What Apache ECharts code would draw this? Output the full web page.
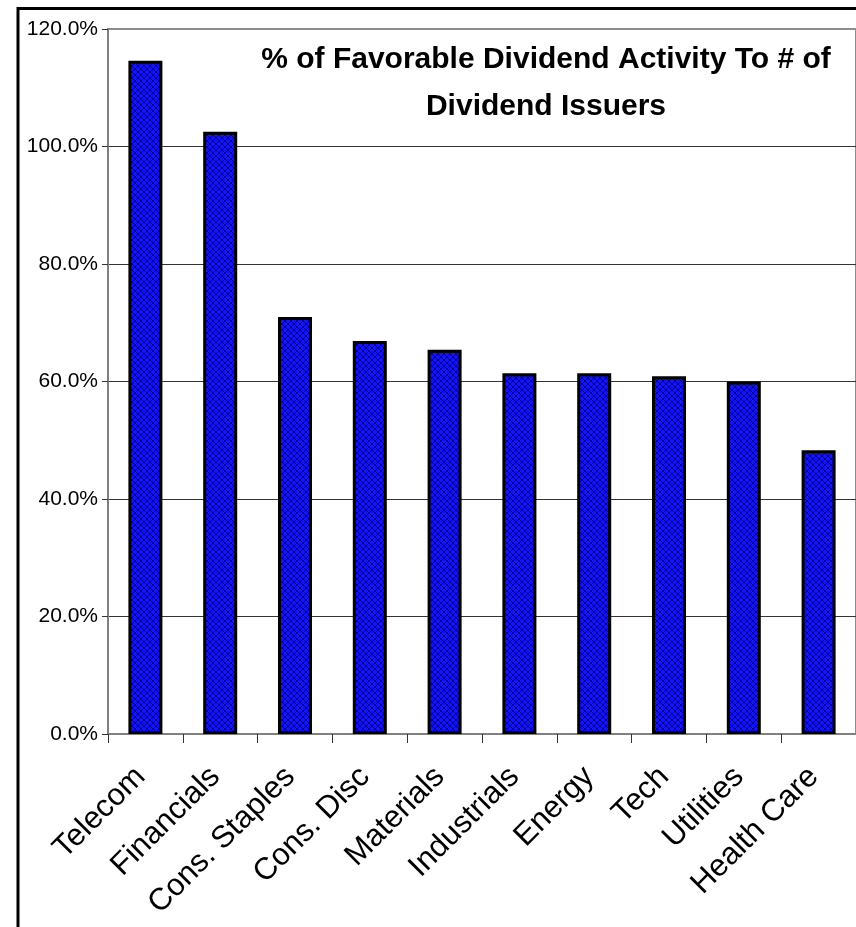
<!DOCTYPE html>
<html>
<head>
<meta charset="utf-8">
<script src="https://cdn.jsdelivr.net/npm/echarts@6/dist/echarts.min.js"></script>
<style>
html,body{margin:0;padding:0;background:#fff;}
#chart{width:856px;height:927px;}
</style>
</head>
<body>
<div id="chart"></div>
<script>
const categories = ['Telecom','Financials','Cons. Staples','Cons. Disc','Materials','Industrials','Energy','Tech','Utilities','Health Care'];
const values = [114.6, 102.5, 71.0, 66.9, 65.4, 61.4, 61.4, 60.9, 60.0, 48.3];
const titleLines = ['% of Favorable Dividend Activity To # of', 'Dividend Issuers'];
const yMin = 0, yMax = 120, yStep = 20;

function makePattern(){
  const n = 6;
  const c = document.createElement('canvas');
  c.width = n; c.height = n;
  const g = c.getContext('2d');
  g.fillStyle = '#1414f5';
  g.fillRect(0,0,n,n);
  g.fillStyle = '#00009a';
  for (let i=0;i<n;i++){ g.fillRect(i,i,1,1); g.fillRect(n-1-i,i,1,1); }
  return c;
}

const chart = echarts.init(document.getElementById('chart'), null, {renderer:'canvas'});
const FONT = "'Liberation Sans', Arial, sans-serif";
chart.setOption({
  animation:false,
  backgroundColor:'#fff',
  grid:{left:108, top:29, width:753, height:705, show:true, borderColor:'#8c8c8c', borderWidth:2, containLabel:false},
  xAxis:{
    type:'category', data:categories,
    axisLine:{show:true, lineStyle:{color:'#808080', width:2}},
    axisTick:{show:true, alignWithLabel:false, length:9, lineStyle:{color:'#333', width:1}},
    axisLabel:{interval:0, rotate:45, fontSize:31, fontFamily:FONT, color:'#000', margin:33, padding:[0,7,0,0]}
  },
  yAxis:{
    type:'value', min:yMin, max:yMax, interval:yStep,
    axisLine:{show:true, lineStyle:{color:'#808080', width:2}},
    axisTick:{show:true, length:6, lineStyle:{color:'#333', width:1}},
    axisLabel:{fontSize:21, fontFamily:FONT, color:'#000', margin:10, formatter:v=>v.toFixed(1)+'%'},
    splitLine:{show:true, showMinLine:false, showMaxLine:false, lineStyle:{color:'#333', width:1}}
  },
  series:[{
    type:'bar', data:values, barWidth:34,
    itemStyle:{color:{image:makePattern(), repeat:'repeat'}, borderColor:'#000', borderWidth:3}
  }],
  graphic:[
    {type:'rect', shape:{x:18, y:8.5, width:1000, height:1000}, style:{fill:null, stroke:'#000', lineWidth:3}, silent:true},
    {type:'text', x:546, y:60, style:{text:titleLines[0], fill:'#000', font:"bold 30px "+FONT, textAlign:'center', textVerticalAlign:'middle'}},
    {type:'text', x:546, y:107, style:{text:titleLines[1], fill:'#000', font:"bold 30px "+FONT, textAlign:'center', textVerticalAlign:'middle'}}
  ]
});
</script>
</body>
</html>
